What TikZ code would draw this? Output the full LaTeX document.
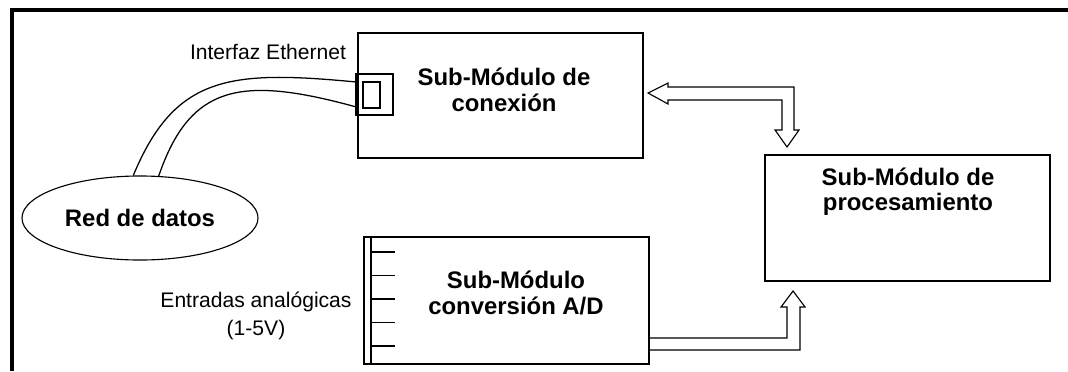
\documentclass[tikz,border=0pt]{standalone}
\usepackage{fontspec}
\setmainfont{Liberation Sans}
\usetikzlibrary{shapes.geometric,calc}

\begin{document}
\begin{tikzpicture}[x=0.025cm, y=-0.025cm,
    modulo/.style={draw, line width=0.9pt, inner sep=0pt, outer sep=0pt, minimum width=7.125cm},
    titulo/.style={font=\fontsize{17}{18}\selectfont\bfseries, align=center},
    etiqueta/.style={font=\fontsize{15}{19.5}\selectfont, align=center},
    cable/.style={line width=0.9pt},
    bus/.style={draw, line width=0.8pt, line join=miter}]
    \useasboundingbox (0,0) rectangle (1068,371);

    % Marco
    \draw[line width=2.8pt] (12,371) -- (12,10) -- (1068,10);

    % Sub-modulos
    \node[modulo, minimum height=3.125cm] (con) at (500.5,95.5) {};
    \node[titulo] (contxt) at (504,90) {Sub-Módulo de\\conexión};
    \node[modulo, minimum height=3.15cm] (proc) at (907.5,218) {};
    \node[titulo] (proctxt) at (908,192) {Sub-Módulo de\\procesamiento};
    \node[modulo, minimum height=3.175cm] (ad) at (506.5,300.5) {};
    \node[titulo] (adtxt) at (516,293) {Sub-Módulo\\conversión A/D};

    % Red y conector Ethernet
    \node[draw, ellipse, line width=0.8pt, inner sep=0pt, minimum width=5.9cm, minimum height=2.1cm,
          font=\fontsize{17}{18}\selectfont\bfseries] (red) at (140,218) {Red de datos};
    \node[draw, line width=0.9pt, inner sep=0pt, minimum width=0.9cm, minimum height=1.025cm] (eth) at (375,94.5) {};
    \node[draw, line width=0.9pt, inner sep=0pt, minimum width=0.425cm, minimum height=0.65cm] (ethin) at (371.5,95) {};
    \draw[line width=1.6pt] (eth.north west) -- (eth.south west);
    \node[etiqueta] (ethlbl) at (268,52) {Interfaz Ethernet};

    % Cable
    \draw[cable] (red.99) .. controls (175,75) and (230,70) .. ($(eth.west)+(0,-12.5)$);
    \draw[cable] (red.66) .. controls (190,85) and (240,75) .. ($(eth.west)+(0,12.5)$);

    % Entradas analogicas
    \draw[line width=0.9pt] ($(ad.north west)+(7,0)$) -- ($(ad.south west)+(7,0)$);
    \foreach \k in {0,...,4}
        \draw[line width=0.9pt] ($(ad.north west)+(7,{15+23.5*\k})$) -- ++(24,0);
    \node[etiqueta] (entlbl) at (256,316) {Entradas analógicas\\(1-5V)};

    % Buses
    \draw[bus] ($(con.east)+(5,-2.5)$) -- ++(20,-10) -- ++(0,4) -- ++(126,0) -- ++(0,43)
        -- ++(5,0) -- ++(-12,17) -- ++(-12,-17) -- ++(7,0) -- ++(0,-30) -- ++(-114,0)
        -- ++(0,4) -- cycle;
    \draw[bus] ($(ad.east)+(0,37.5)$) -- ++(138,0) -- ++(0,-31) -- ++(-6,0) -- ++(12,-16)
        -- ++(12,16) -- ++(-5,0) -- ++(0,43) -- ++(-151,0);
\end{tikzpicture}
\end{document}
